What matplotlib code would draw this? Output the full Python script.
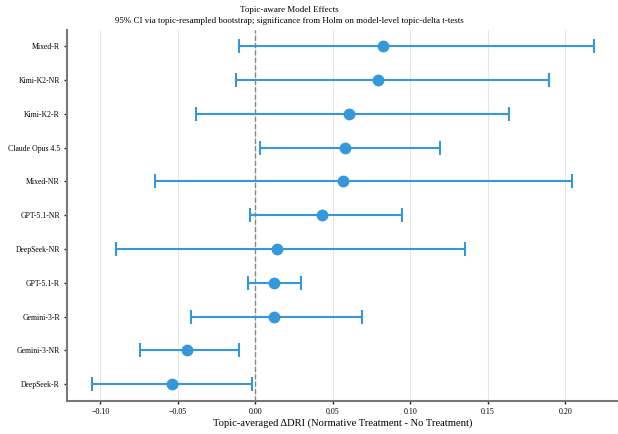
import matplotlib
matplotlib.use("Agg")
import matplotlib.pyplot as plt

plt.rcParams['font.family'] = ['Liberation Serif', 'DejaVu Serif']
plt.rcParams['mathtext.fontset'] = 'stix'

# models listed top to bottom
models = ["Mixed-R", "Kimi-K2-NR", "Kimi-K2-R", "Claude Opus 4.5", "Mixed-NR",
          "GPT-5.1-NR", "DeepSeek-NR", "GPT-5.1-R", "Gemini-3-R", "Gemini-3-NR",
          "DeepSeek-R"]
effect = [0.0826, 0.0792, 0.0605, 0.0581, 0.0568, 0.0428, 0.0142, 0.0121,
          0.0121, -0.0443, -0.0539]
ci_low = [-0.0103, -0.0125, -0.0383, 0.0028, -0.0647, -0.0034, -0.0897,
          -0.0049, -0.0415, -0.0744, -0.1054]
ci_high = [0.2187, 0.1895, 0.1637, 0.1192, 0.2045, 0.0946, 0.1353, 0.0295,
           0.0688, -0.0103, -0.0021]

color = "#3498db"

fig = plt.figure(figsize=(6.18, 4.34), dpi=100)
ax = fig.add_axes([0.108, 0.076, 0.892, 0.856])

ypos = list(range(len(models) - 1, -1, -1))
err_lo = [e - l for e, l in zip(effect, ci_low)]
err_hi = [h - e for e, h in zip(effect, ci_high)]

ax.axvline(0, color="#888888", linestyle="--", linewidth=1.0, zorder=1)
ax.errorbar(effect, ypos, xerr=[err_lo, err_hi], fmt="o", color=color,
            ecolor=color, markersize=7.5, elinewidth=1.5, capsize=5,
            capthick=1.5, zorder=3)

ax.set_yticks(ypos)
ax.set_yticklabels(models, fontsize=5.6)
ax.set_ylim(-0.5, len(models) - 0.5)
ax.set_xlim(-0.1217, 0.234)
ax.set_xticks([-0.10, -0.05, 0.0, 0.05, 0.10, 0.15, 0.20])
ax.set_xticklabels(["\u22120.10", "\u22120.05", "0.00", "0.05", "0.10", "0.15", "0.20"],
                   fontsize=5.8)
ax.grid(True, axis="x", color="#e6e6e6", linewidth=0.8)
ax.set_axisbelow(True)

for side in ["top", "right"]:
    ax.spines[side].set_visible(False)
for side in ["left", "bottom"]:
    ax.spines[side].set_color("#777777")
    ax.spines[side].set_linewidth(1.5)
ax.tick_params(length=2.5, width=1, color="#222222", pad=2.5)

ax.set_xlabel("Topic-averaged \u0394DRI (Normative Treatment - No Treatment)",
              fontsize=7.6, labelpad=2)
fig.text(0.468, 1 - 10 / 434, "Topic-aware Model Effects",
         ha="center", va="center", fontsize=6.5)
fig.text(0.468, 1 - 21 / 434, "95% CI via topic-resampled bootstrap; "
         "significance from Holm on model-level topic-delta t-tests",
         ha="center", va="center", fontsize=6.5)

fig.savefig("out.png", dpi=100)
